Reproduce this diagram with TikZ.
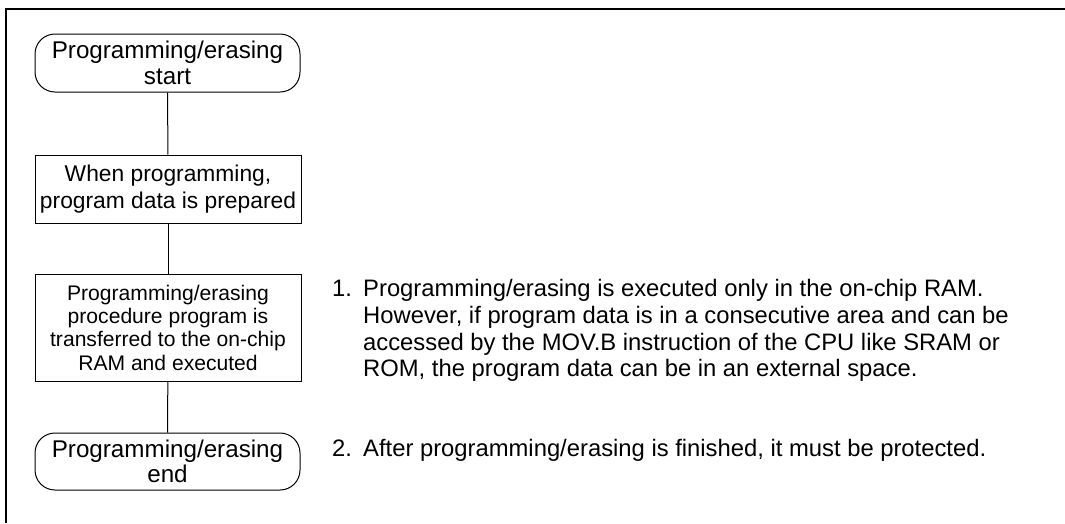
\documentclass[tikz,border=0pt]{standalone}
\usepackage{fontspec}
\setmainfont{Liberation Sans}
\begin{document}
\begin{tikzpicture}[x=1pt,y=-1pt,
  frame/.style={line width=2.5pt},
  conn/.style={line width=1pt},
  term/.style={draw, line width=1pt, rounded corners=20pt, minimum width=265pt, inner sep=0pt, align=center,
    font=\fontsize{24.2pt}{25.5pt}\selectfont},
  procbox/.style={draw, line width=1pt, minimum width=266pt, inner sep=0pt, align=center,
    font=\fontsize{22.8pt}{26.5pt}\selectfont},
  smallbox/.style={procbox, font=\fontsize{21.1pt}{23.3pt}\selectfont},
  note/.style={inner sep=0pt, anchor=base west, align=left, font=\fontsize{23.8pt}{26.7pt}\selectfont}
]
\useasboundingbox (0,0) rectangle (1065,523);
\draw[frame] (6,523) -- (6,9) -- (1065,9);

\node[term, minimum height=58pt] (start) at (167.5,63) {Programming/erasing\\start};
\node[procbox, minimum height=68pt] (prep) at (168,189) {When programming,\\program data is prepared};
\node[smallbox, minimum height=107pt] (xfer) at (168,327.5) {Programming/erasing\\procedure program is\\transferred to the on-chip\\RAM and executed};
\node[term, minimum height=57pt] (stop) at (167.5,461.5) {Programming/erasing\\end};

\draw[conn] (start) -- (prep);
\draw[conn] (prep) -- (xfer);
\draw[conn] (xfer) -- (stop);

\node[note] (n1) at (332,296.7) {1.};
\node[note] (t1) at (363,376.8) {Programming/erasing is executed only in the on-chip RAM.\\However, if program data is in a consecutive area and can be\\accessed by the MOV.B instruction of the CPU like SRAM or\\ROM, the program data can be in an external space.};
\node[note] (n2) at (332,456.7) {2.};
\node[note] (t2) at (363,456.7) {After programming/erasing is finished, it must be protected.};
\end{tikzpicture}
\end{document}
